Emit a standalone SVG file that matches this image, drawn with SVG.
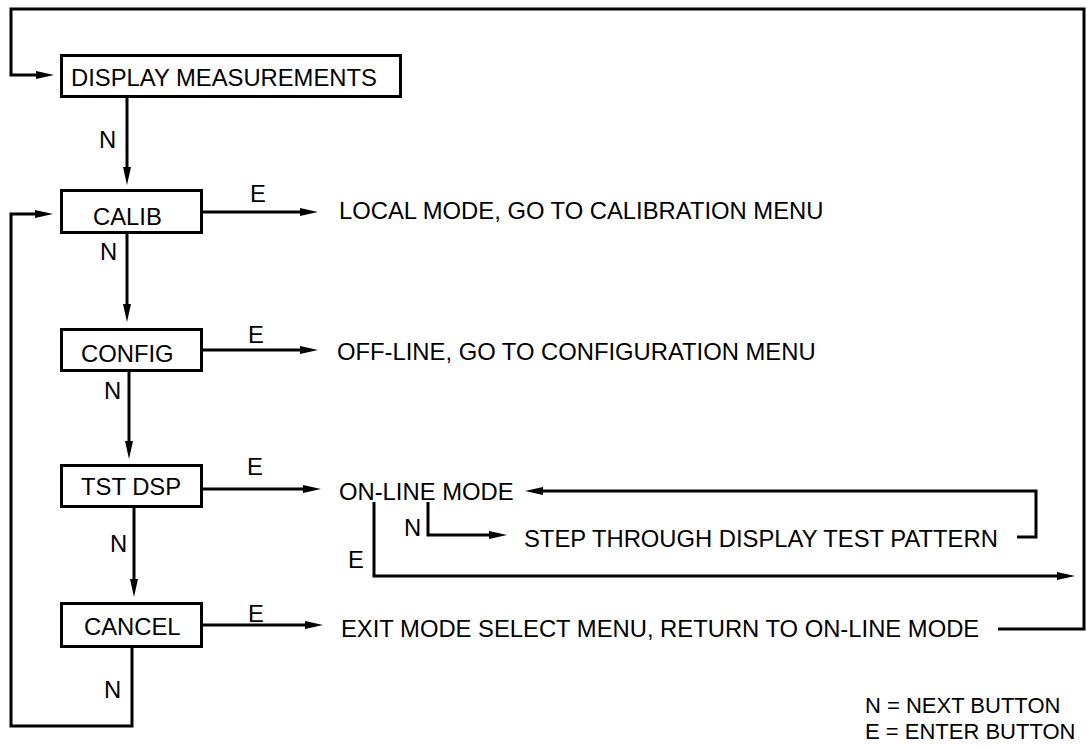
<svg xmlns="http://www.w3.org/2000/svg" width="1087" height="750" viewBox="0 0 1087 750">
<style>
text{font-family:"Liberation Sans",Arial,Helvetica,sans-serif;font-size:23.8px;fill:#000}
.legend text{font-size:22px}
.box{fill:#fff;stroke:#000;stroke-width:3}
.c{fill:none;stroke:#000;stroke-width:3;stroke-linejoin:miter}
.a{marker-end:url(#ah)}
</style>
<defs>
<marker id="ah" viewBox="0 0 18 8" refX="8" refY="4" markerWidth="18" markerHeight="8" markerUnits="userSpaceOnUse" orient="auto">
<path d="M0 0 L18 4 L0 8 Z" fill="#000"/>
</marker>
</defs>
<rect width="1087" height="750" fill="#fff"/>
<g id="connectors">
<path class="c a" d="M998 629 H1084 V9 H11 V75 H44"/>
<path class="c a" d="M127 97 V175"/>
<path class="c a" d="M202 212 H308"/>
<path class="c a" d="M127 233 V312"/>
<path class="c a" d="M202 350 H308"/>
<path class="c a" d="M129 371 V449"/>
<path class="c a" d="M203 489 H311"/>
<path class="c a" d="M134 507 V587"/>
<path class="c a" d="M203 625 H313"/>
<path class="c a" d="M132 647 V726 H11 V214 H43"/>
<path class="c a" d="M428 502 V535 H497"/>
<path class="c a" d="M374 502 V576 H1065"/>
<path class="c a" d="M1017 537 H1036 V491 H535"/>
<g id="connector-labels">
<text x="99" y="148">N</text>
<text x="250" y="202">E</text>
<text x="100" y="260">N</text>
<text x="248" y="343">E</text>
<text x="104" y="399">N</text>
<text x="247" y="475">E</text>
<text x="110" y="552">N</text>
<text x="248" y="622">E</text>
<text x="104" y="698">N</text>
<text x="404" y="536">N</text>
<text x="348" y="568">E</text>
</g>
</g>
<g id="display-measurements">
<rect class="box" x="61.5" y="55.5" width="339" height="41"/>
<text x="71" y="86">DISPLAY MEASUREMENTS</text>
</g>
<g id="calib">
<rect class="box" x="61.5" y="190.5" width="140" height="42"/>
<text x="93" y="225">CALIB</text>
</g>
<g id="config">
<rect class="box" x="61.5" y="329.5" width="140" height="41"/>
<text x="81" y="362">CONFIG</text>
</g>
<g id="tst-dsp">
<rect class="box" x="61.5" y="465.5" width="140" height="41"/>
<text x="81" y="495">TST DSP</text>
</g>
<g id="cancel">
<rect class="box" x="61.5" y="603.5" width="140" height="43"/>
<text x="84" y="635">CANCEL</text>
</g>
<g id="local-mode">
<text x="339" y="219">LOCAL MODE, GO TO CALIBRATION MENU</text>
</g>
<g id="off-line">
<text x="337" y="360">OFF-LINE, GO TO CONFIGURATION MENU</text>
</g>
<g id="on-line-mode">
<text x="339" y="500">ON-LINE MODE</text>
</g>
<g id="step-through">
<text x="524" y="547">STEP THROUGH DISPLAY TEST PATTERN</text>
</g>
<g id="exit-mode">
<text x="341" y="637">EXIT MODE SELECT MENU, RETURN TO ON-LINE MODE</text>
</g>
<g id="legend" class="legend">
<text x="865" y="713">N = NEXT BUTTON</text>
<text x="865" y="739">E = ENTER BUTTON</text>
</g>
</svg>
